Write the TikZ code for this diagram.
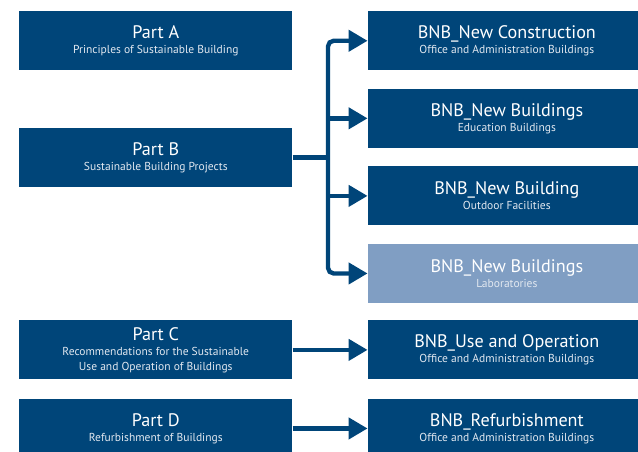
\documentclass[tikz,border=0pt]{standalone}
\usepackage{fontspec}
\setmainfont{PT Sans}
\usetikzlibrary{arrows.meta,positioning}
\definecolor{navy}{RGB}{0,69,121}
\definecolor{paleblue}{RGB}{128,158,195}
\definecolor{softwhite}{RGB}{226,232,240}
\newcommand{\boxhead}[1]{{\fontsize{12.9}{10.7}\selectfont\color{white}#1}}

\begin{document}
\begin{tikzpicture}[node distance=0.45cm,
    every node/.style={align=center,text=softwhite,font=\fontsize{8.2}{10.7}\selectfont},
    partbox/.style={fill=navy,inner sep=0pt,minimum width=6.825cm,minimum height=1.475cm},
    bnbbox/.style={fill=navy,inner sep=0pt,minimum width=6.95cm,minimum height=1.475cm},
    link/.style={draw=navy,line width=3.1pt},
    tip/.style={-{Triangle[length=0.475cm,width=0.525cm]}}]
    \useasboundingbox (0,0) rectangle (15.95,-11.3);
    % left column
    \node[partbox,anchor=north west] (a) at (0.475,-0.275) {\boxhead{Part A}\\Principles of Sustainable Building};
    \node[partbox,below=1.425cm of a] (b) {\boxhead{Part B}\\Sustainable Building Projects};
    \node[partbox,below=3.325cm of b] (c) {\boxhead{Part C}\\Recommendations for the Sustainable\\Use and Operation of Buildings};
    \node[partbox,below=0.475cm of c] (d) {\boxhead{Part D}\\Refurbishment of Buildings};
    % right column
    \node[bnbbox,right=1.875cm of a] (r1) {\boxhead{BNB\_New Construction}\\Office and Administration Buildings};
    \node[bnbbox,below=of r1] (r2) {\boxhead{BNB\_New Buildings}\\Education Buildings};
    \node[bnbbox,below=of r2] (r3) {\boxhead{BNB\_New Building}\\Outdoor Facilities};
    \node[bnbbox,fill=paleblue,below=of r3] (r4) {\boxhead{BNB\_New Buildings}\\Laboratories};
    \node[bnbbox,right=1.875cm of c] (r5) {\boxhead{BNB\_Use and Operation}\\Office and Administration Buildings};
    \node[bnbbox,right=1.875cm of d] (r6) {\boxhead{BNB\_Refurbishment}\\Office and Administration Buildings};
    % branching from part B
    \coordinate (bus) at (8.2,0);
    \draw[link] (b.east) -- (b.east -| bus);
    \draw[link,rounded corners=4pt,{Triangle[length=0.475cm,width=0.525cm]}-{Triangle[length=0.475cm,width=0.525cm]}]
      (r1.west) -- (r1.west -| bus) -- (r4.west -| bus) -- (r4.west);
    \draw[link,tip] (r2.west -| bus) -- (r2.west);
    \draw[link,tip] (r3.west -| bus) -- (r3.west);
    \draw[link,tip] (c.east) -- (r5.west);
    \draw[link,tip] (d.east) -- (r6.west);
  \end{tikzpicture}
\end{document}
